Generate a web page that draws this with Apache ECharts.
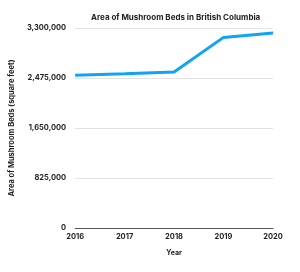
<!DOCTYPE html>
<html>
<head>
<meta charset="utf-8">
<script src="https://cdn.jsdelivr.net/npm/echarts@6/dist/echarts.min.js"></script>
<style>
  html, body { margin: 0; padding: 0; background: #fff; }
  #container { width: 300px; height: 272px; }
</style>
</head>
<body>
<div id="container"></div>
<script>
// 蘑菇床面积
let years = ['2016', '2017', '2018', '2019', '2020'];
let areaValues = [2520000, 2545000, 2574000, 3145000, 3218000];
let yTicks = [0, 825000, 1650000, 2475000, 3300000];

let dom = document.getElementById("container");
let myChart = echarts.init(dom);
let font = 'Inter, "Liberation Sans", sans-serif';
option = {
    animation: false,
    textStyle: {
        fontFamily: font
    },
    title: {
        text: 'Area of Mushroom Beds in British Columbia',
        left: 86,
        top: 9,
        textStyle: {
            fontSize: 8,
            fontWeight: 'bold',
            color: '#222',
            fontFamily: font
        }
    },
    grid: {
        left: 69,
        right: 27,
        top: 28,
        bottom: 44
    },
    xAxis: {
        type: 'category',
        data: years,
        boundaryGap: false,
        name: 'Year',
        nameLocation: 'middle',
        nameGap: 21,
        nameTextStyle: {
            fontSize: 7,
            fontWeight: 'bold',
            color: '#222'
        },
        axisLine: {
            lineStyle: {
                color: '#555',
                width: 1
            }
        },
        axisTick: {
            show: false
        },
        axisLabel: {
            fontSize: 7.5,
            fontWeight: 'bold',
            color: '#222',
            margin: 5
        }
    },
    yAxis: {
        type: 'value',
        min: yTicks[0],
        max: yTicks[yTicks.length - 1],
        interval: yTicks[1] - yTicks[0],
        name: 'Area of Mushroom Beds (square feet)',
        nameLocation: 'middle',
        nameGap: 51,
        nameTextStyle: {
            fontSize: 7.5,
            fontWeight: 'bold',
            color: '#222'
        },
        axisLine: {
            show: false
        },
        axisTick: {
            show: false
        },
        axisLabel: {
            fontSize: 7.5,
            fontWeight: 'bold',
            color: '#222',
            margin: 9,
            formatter: function (v) {
                return v.toLocaleString('en-US');
            }
        },
        splitLine: {
            lineStyle: {
                color: '#e2e2e2',
                width: 1
            }
        }
    },
    series: [
        {
            name: 'Area',
            type: 'line',
            data: areaValues,
            symbol: 'none',
            lineStyle: {
                color: '#10a4f5',
                width: 3
            }
        }
    ]
};
myChart.setOption(option, true);
</script>
</body>
</html>
